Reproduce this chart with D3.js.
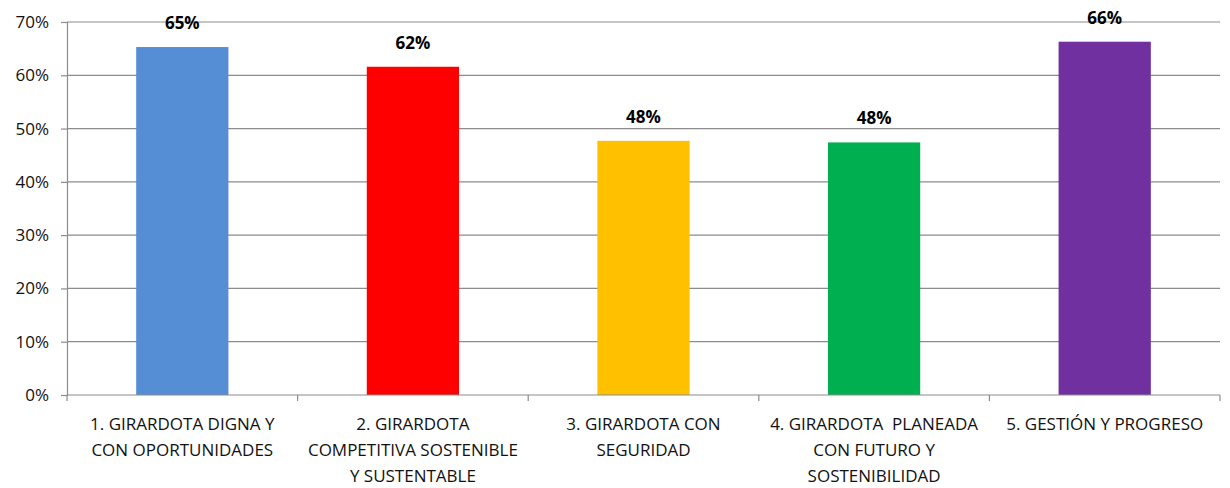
<!DOCTYPE html>
<html><head><meta charset="utf-8">
<script src="https://cdn.jsdelivr.net/npm/d3@7"></script>
<style>
body{margin:0;background:#fff;}
text{font-family:"Open Sans","Liberation Sans",sans-serif;}
</style></head>
<body><svg id="chart" width="1230" height="488"></svg>
<script>
const categories = [
  "1. GIRARDOTA DIGNA Y|CON OPORTUNIDADES",
  "2. GIRARDOTA|COMPETITIVA SOSTENIBLE|Y SUSTENTABLE",
  "3. GIRARDOTA CON|SEGURIDAD",
  "4. GIRARDOTA  PLANEADA|CON FUTURO Y|SOSTENIBILIDAD",
  "5. GESTIÓN Y PROGRESO"
];
const values = [0.653, 0.616, 0.477, 0.474, 0.663];
const valueLabels = ["65%", "62%", "48%", "48%", "66%"];
const colors = ["#558ED5", "#FF0000", "#FFC000", "#00B050", "#7030A0"];
const yTicks = [0, 0.1, 0.2, 0.3, 0.4, 0.5, 0.6, 0.7];

const svg = d3.select("#chart");
const m = {left: 67, right: 1220, top: 22, bottom: 395};

const x = d3.scaleBand().domain(categories).range([m.left, m.right]).paddingInner(0.6).paddingOuter(0.3);
const xb = d3.scaleBand().domain(categories).range([m.left, m.right]).padding(0);
const y = d3.scaleLinear().domain([0, 0.7]).range([m.bottom, m.top]);

// gridlines
svg.append("g").selectAll("line").data(yTicks.filter(d => d > 0)).join("line")
  .attr("x1", m.left).attr("x2", m.right)
  .attr("y1", d => y(d)).attr("y2", d => y(d))
  .attr("stroke", "#8c8c8c").attr("stroke-width", 1.2);

// y axis
const yAxis = svg.append("g").attr("transform", `translate(${m.left},0)`)
  .call(d3.axisLeft(y).tickValues(yTicks).tickFormat(d3.format(".0%")).tickSize(6).tickPadding(12));
yAxis.select(".domain").attr("stroke", "#8c8c8c").attr("stroke-width", 1.2);
yAxis.selectAll(".tick line").attr("stroke", "#8c8c8c").attr("stroke-width", 1.2);
yAxis.selectAll(".tick text").attr("font-size", 17).attr("fill", "#111")
  .style("font-family", '"Open Sans","Liberation Sans",sans-serif');

// bars
svg.append("g").selectAll("rect").data(values).join("rect")
  .attr("x", (d, i) => x(categories[i])).attr("width", x.bandwidth())
  .attr("y", d => y(d)).attr("height", d => y(0) - y(d))
  .attr("fill", (d, i) => colors[i]);

// x axis
const xg = svg.append("g").attr("transform", `translate(0,${m.bottom})`);
xg.append("line").attr("x1", m.left).attr("x2", m.right).attr("stroke", "#8c8c8c").attr("stroke-width", 1.2);
const bounds = categories.map(c => xb(c)).concat([m.right]);
xg.selectAll("line.tk").data(bounds).join("line").attr("class", "tk")
  .attr("x1", d => d).attr("x2", d => d).attr("y1", 0).attr("y2", 6)
  .attr("stroke", "#8c8c8c").attr("stroke-width", 1.2);

// category labels
const cl = svg.append("g").selectAll("text").data(categories).join("text")
  .attr("x", d => xb(d) + xb.bandwidth() / 2)
  .attr("y", 430)
  .attr("text-anchor", "middle")
  .attr("font-size", 17).attr("fill", "#111")
  .style("white-space", "pre");
cl.each(function(d) {
  const t = d3.select(this);
  d.split("|").forEach((line, k) => {
    t.append("tspan").attr("x", xb(d) + xb.bandwidth() / 2).attr("dy", k === 0 ? 0 : 26).text(line);
  });
});

// value labels
svg.append("g").selectAll("text").data(values).join("text")
  .attr("x", (d, i) => x(categories[i]) + x.bandwidth() / 2)
  .attr("y", d => y(d) - 18)
  .attr("text-anchor", "middle")
  .attr("font-size", 17).attr("font-weight", "bold").attr("fill", "#000")
  .text((d, i) => valueLabels[i]);
</script></body></html>
